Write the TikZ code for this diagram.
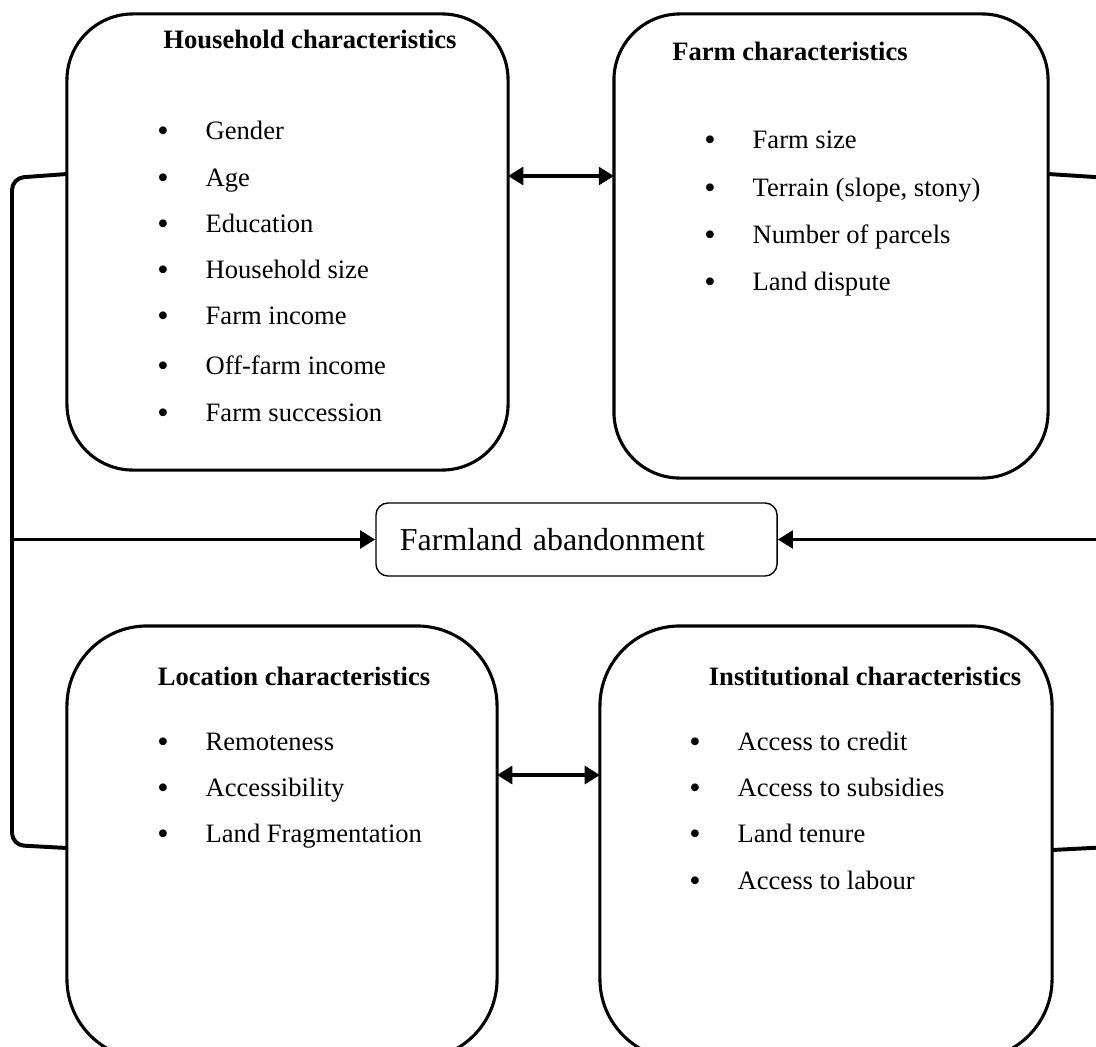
\documentclass[tikz,border=0pt]{standalone}
\usepackage{fontspec}
\setmainfont{Liberation Serif}
\usetikzlibrary{arrows.meta}
\tikzset{
  group/.style={draw, line width=2.2pt, rounded corners=1.65cm, inner sep=0pt, outer sep=0pt},
  head/.style={font=\fontsize{18.9}{22}\selectfont\bfseries, anchor=base, inner sep=0pt},
  item/.style={font=\fontsize{18.9}{22}\selectfont, anchor=base west, inner sep=0pt},
  link/.style={line width=2.8pt},
  tip/.style={-{Triangle[length=0.38cm,width=0.44cm]}},
}
\newcommand{\bul}{\makebox[1.21cm][l]{\raisebox{-2pt}{\fontsize{23}{23}\selectfont\textbullet}}}

\begin{document}
\begin{tikzpicture}[x=0.025cm, y=-0.025cm]
  \clip (0,0) rectangle (1096,1046);
  % the four groups of factors
  \node[group, minimum width=11.025cm, minimum height=11.4cm] (hh) at (287.5,242) {};
  \node[group, minimum width=10.85cm, minimum height=11.6cm] (farm) at (831,246) {};
  \node[group, rounded corners=2cm, minimum width=10.75cm, minimum height=10.825cm] (loc) at (282,842.5) {};
  \node[group, rounded corners=2cm, minimum width=11.3cm, minimum height=10.825cm] (inst) at (826,842.5) {};
  \node[draw, line width=1pt, rounded corners=0.3cm, minimum height=1.825cm, text width=8.825cm,
    inner xsep=0.6cm, align=left, font=\fontsize{22.7}{26}\selectfont] (ab) at (576.5,539.5) {Farmland abandonment};
  % titles
  \node[head] (hht) at (310,48) {Household characteristics};
  \node[head] (farmt) at (790,60) {Farm characteristics};
  \node[head] (loct) at (294,685) {Location characteristics};
  \node[head] (instt) at (865,685) {Institutional characteristics};
  % items
  \foreach \t/\y [count=\i] in {Gender/139, Age/186, Education/232, Household size/278,
      Farm income/324, Off-farm income/374, Farm succession/421}
    \node[item] (hh\i) at (157,\y) {\bul\t};
  \foreach \t/\y [count=\i] in {Farm size/148, {Terrain (slope, stony)}/196,
      Number of parcels/243, Land dispute/290}
    \node[item] (farm\i) at (704,\y) {\bul\t};
  \foreach \t/\y [count=\i] in {Remoteness/750, Accessibility/796, Land Fragmentation/842}
    \node[item] (loc\i) at (157,\y) {\bul\t};
  \foreach \t/\y [count=\i] in {Access to credit/750, Access to subsidies/796,
      Land tenure/842, Access to labour/889}
    \node[item] (inst\i) at (689,\y) {\bul\t};
  % brackets and arrows
  \coordinate (lt) at (12,178);
  \coordinate (lb) at (12,845);
  \coordinate (rt) at (1110,178);
  \coordinate (rb) at (1110,847);
  \draw[link, rounded corners=0.3cm] (hh.west |- 0,174) -- (lt) -- (lb) -- (loc.west |- 0,848);
  \draw[link, rounded corners=0.3cm] (farm.east |- 0,174) -- (rt) -- (rb) -- (inst.east |- 0,850);
  \draw[link, tip] (lt |- ab) -- (ab.west);
  \draw[link, tip] (rt |- ab) -- (ab.east);
  \draw[link, {Triangle[length=0.38cm,width=0.44cm]}-{Triangle[length=0.38cm,width=0.44cm]}]
    (hh.east |- 0,176) -- (farm.west |- 0,176);
  \draw[link, {Triangle[length=0.38cm,width=0.44cm]}-{Triangle[length=0.38cm,width=0.44cm]}]
    (loc.east |- 0,775) -- (inst.west |- 0,775);
\end{tikzpicture}
\end{document}
